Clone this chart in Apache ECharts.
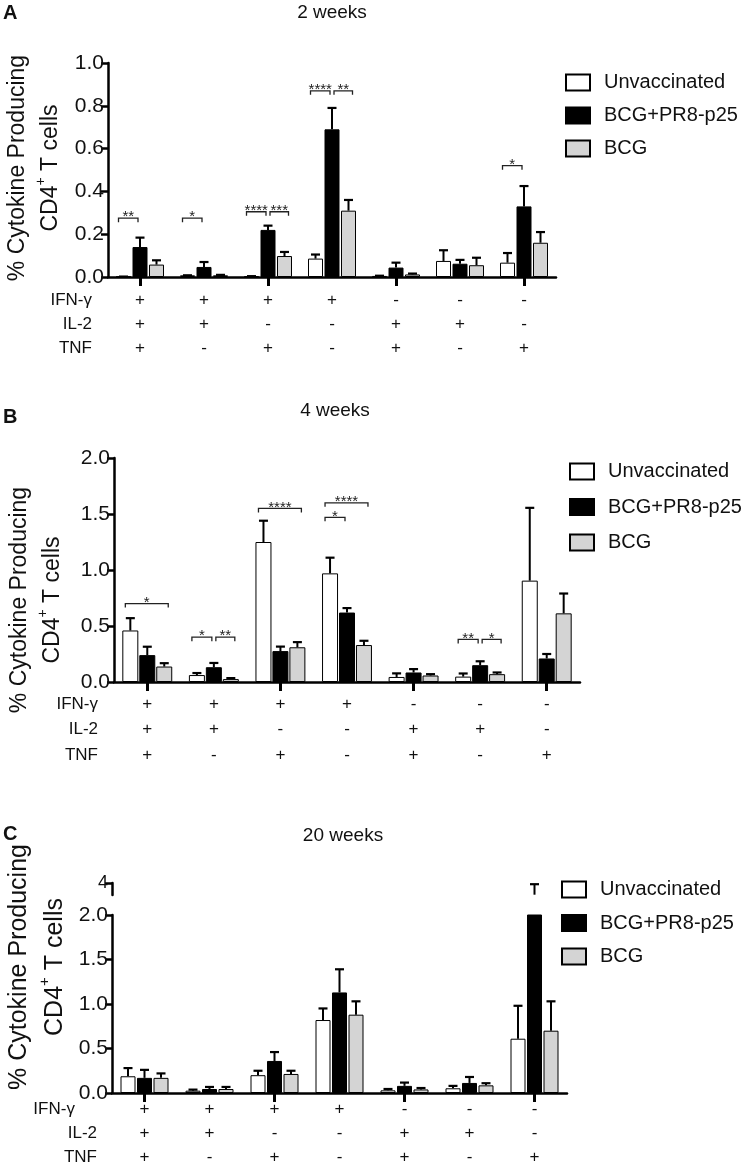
<!DOCTYPE html>
<html><head><meta charset="utf-8">
<script src="https://cdn.jsdelivr.net/npm/echarts@6/dist/echarts.min.js"></script>
<style>html,body{margin:0;padding:0;background:#fff}#c{width:754px;height:1174px}</style>
</head><body><div id="c"></div>
<script>
// ---------- data ----------
const categories = ['IFN+IL2+TNF+','IFN+IL2+TNF-','IFN+IL2-TNF+','IFN+IL2-TNF-','IFN-IL2+TNF+','IFN-IL2+TNF-','IFN-IL2-TNF+'];
const rowNames = ['IFN-γ','IL-2','TNF'];
const ifnRow = ['+','+','+','+','-','-','-'];
const il2Row = ['+','+','-','-','+','+','-'];
const tnfRow = ['+','-','+','-','+','-','+'];
const groupNames = ['Unvaccinated','BCG+PR8-p25','BCG'];
const yTitleLine1 = '% Cytokine Producing';
const yTitleLine2 = ['CD4', '+', ' T cells'];

// 2 weeks (mean, SEM)
const w2Unvacc    = [0.002, 0.008, 0.004, 0.086, 0.005, 0.075, 0.067];
const w2UnvaccSem = [0.000, 0.000, 0.000, 0.019, 0.001, 0.050, 0.045];
const w2P25       = [0.140, 0.047, 0.220, 0.690, 0.044, 0.062, 0.330];
const w2P25Sem    = [0.044, 0.023, 0.020, 0.100, 0.023, 0.018, 0.095];
const w2Bcg       = [0.058, 0.008, 0.098, 0.310, 0.012, 0.055, 0.160];
const w2BcgSem    = [0.020, 0.002, 0.019, 0.050, 0.004, 0.035, 0.050];
// [category, fromGroup, toGroup, bracket height, label]
const w2Sig = [[0,0,1,0.275,'**'],[1,0,1,0.275,'*'],[2,0,1,0.305,'****'],[2,1,2,0.305,'***'],[3,0,1,0.87,'****'],[3,1,2,0.87,'**'],[6,0,1,0.52,'*']];

// 4 weeks
const w4Unvacc    = [0.460, 0.062, 1.250, 0.970, 0.045, 0.048, 0.905];
const w4UnvaccSem = [0.110, 0.018, 0.190, 0.140, 0.032, 0.028, 0.650];
const w4P25       = [0.240, 0.132, 0.276, 0.620, 0.085, 0.150, 0.210];
const w4P25Sem    = [0.075, 0.038, 0.040, 0.040, 0.030, 0.035, 0.040];
const w4Bcg       = [0.138, 0.026, 0.310, 0.330, 0.058, 0.070, 0.613];
const w4BcgSem    = [0.030, 0.009, 0.046, 0.038, 0.012, 0.015, 0.177];
const w4Sig = [[0,0,2,0.70,'*'],[1,0,1,0.40,'*'],[1,1,2,0.40,'**'],[2,0,2,1.55,'****'],[3,0,1,1.47,'*'],[3,0,2,1.60,'****'],[5,0,1,0.38,'**'],[5,1,2,0.38,'*']];

// 20 weeks
const w20Unvacc    = [0.188, 0.026, 0.200, 0.820, 0.030, 0.053, 0.610];
const w20UnvaccSem = [0.092, 0.012, 0.050, 0.130, 0.015, 0.027, 0.370];
const w20P25       = [0.170, 0.045, 0.360, 1.130, 0.080, 0.113, 2.050];
const w20P25Sem    = [0.090, 0.023, 0.100, 0.260, 0.037, 0.067, 1.750];
const w20Bcg       = [0.170, 0.045, 0.214, 0.880, 0.040, 0.086, 0.700];
const w20BcgSem    = [0.050, 0.023, 0.036, 0.150, 0.016, 0.024, 0.330];
const w20Sig = [];
const w20BreakTicks = [2, 4];

// ---------- layout / style ----------
const FONT = '"Liberation Sans", Arial, Helvetica, sans-serif';
const INK = '#111';
const COLORS = ['#ffffff', '#000000', '#d4d4d4'];

const panels = [
  { letter:'A', title:'2 weeks', letterTop:3, titleX:332, titleTop:3,
    grid:{left:108, top:63, width:448, height:214}, max:1, interval:0.2,
    bw:15, gap:0.1, rows:[23,47,71], rowNameGap:16,
    yTitle:{x:34, y:168, size:23},
    vals:[w2Unvacc,w2P25,w2Bcg], sems:[w2UnvaccSem,w2P25Sem,w2BcgSem], sig:w2Sig,
    legend:{left:565, top:72, gap:12} },
  { letter:'B', title:'4 weeks', letterTop:407, titleX:335, titleTop:401,
    grid:{left:114, top:458, width:466, height:224}, max:2, interval:0.5,
    bw:16, gap:0.06, rows:[22,47,73], rowNameGap:16,
    yTitle:{x:36, y:600, size:23},
    vals:[w4Unvacc,w4P25,w4Bcg], sems:[w4UnvaccSem,w4P25Sem,w4BcgSem], sig:w4Sig,
    legend:{left:569, top:461, gap:14.5} },
  { letter:'C', title:'20 weeks', letterTop:824, titleX:343, titleTop:826,
    grid:{left:112, top:915, width:455, height:178}, max:2, interval:0.5,
    bw:15, gap:0.1, rows:[16,40,64], rowNameGap:15,
    yTitle:{x:37, y:967, size:25},
    vals:[w20Unvacc,w20P25,w20Bcg], sems:[w20UnvaccSem,w20P25Sem,w20BcgSem], sig:w20Sig,
    legend:{left:561, top:879, gap:12.5},
    brk:{top:883, height:12} }
];

const grids = [], xAxes = [], yAxes = [], series = [], legends = [], titles = [], graphics = [];
const rowsData = [ifnRow, il2Row, tnfRow];

function offsetOf(k, p){ return (k - 1) * p.bw * (1 + p.gap); }

function errRenderer(k, p){
  return function(params, api){
    const ci = api.value(0), m = api.value(1), s = api.value(2);
    const b = api.coord([ci, m]);
    const t = api.coord([ci, m + s]);
    const x = b[0] + offsetOf(k, p);
    return { type:'group', children:[
      { type:'line', shape:{x1:x, y1:b[1], x2:x, y2:t[1]}, style:{stroke:'#000', lineWidth:2} },
      { type:'line', shape:{x1:x-4.5, y1:t[1], x2:x+4.5, y2:t[1]}, style:{stroke:'#000', lineWidth:2.2} }
    ]};
  };
}

function sigRenderer(p){
  return function(params, api){
    const s = p.sig[params.dataIndex];
    const c = api.coord([s[0], s[3]]);
    const x1 = c[0] + offsetOf(s[1], p) + (s[1] === 0 ? -5 : 2);
    const x2 = c[0] + offsetOf(s[2], p) + (s[2] === 2 ? 4 : -2);
    const y = c[1];
    return { type:'group', children:[
      { type:'polyline', shape:{points:[[x1,y+4],[x1,y],[x2,y],[x2,y+4]]}, style:{stroke:'#222', lineWidth:1.3, fill:null} },
      { type:'text', style:{ x:(x1+x2)/2, y:y-1, text:s[4], align:'center', verticalAlign:'middle', font:'15px ' + FONT, fill:'#222' } }
    ]};
  };
}

panels.forEach(function(p){
  const gi = grids.length;
  grids.push(Object.assign({containLabel:false}, p.grid));
  const xi = xAxes.length;
  xAxes.push({ type:'category', gridIndex:gi, data:categories,
    axisLine:{show:true, lineStyle:{color:'#000', width:2.5}},
    axisTick:{show:true, alignWithLabel:true, length:9, lineStyle:{color:'#000', width:3}},
    axisLabel:{show:false}, splitLine:{show:false} });
  rowsData.forEach(function(row, r){
    xAxes.push({ type:'category', gridIndex:gi, data:categories, position:'bottom', offset:p.rows[r],
      axisLine:{show:false}, axisTick:{show:false}, splitLine:{show:false},
      axisLabel:{interval:0, margin:0, fontSize:17, fontFamily:FONT, color:INK, verticalAlign:'middle',
        formatter:function(v, i){ return row[i]; }},
      name:rowNames[r], nameLocation:'start', nameGap:p.rowNameGap,
      nameTextStyle:{fontSize:17, fontFamily:FONT, color:INK, align:'right', verticalAlign:'middle'} });
  });
  const yi = yAxes.length;
  yAxes.push({ type:'value', gridIndex:gi, min:0, max:p.max, interval:p.interval,
    axisLine:{show:true, lineStyle:{color:'#000', width:2.5}},
    axisTick:{show:true, length:7, lineStyle:{color:'#000', width:2.5}},
    splitLine:{show:false},
    axisLabel:{fontSize:21, fontFamily:FONT, color:INK, margin:4, formatter:function(v){ return v.toFixed(1); }} });

  for (let k = 0; k < 3; k++){
    series.push({ type:'bar', name:groupNames[k], xAxisIndex:xi, yAxisIndex:yi, data:p.vals[k],
      barWidth:p.bw, barGap:(p.gap*100)+'%', silent:true, animation:false,
      itemStyle:{color:COLORS[k], borderColor:'#000', borderWidth:1} });
  }
  for (let k = 0; k < 3; k++){
    series.push({ type:'custom', xAxisIndex:xi, yAxisIndex:yi, clip:true, z:5, silent:true, animation:false,
      data:p.vals[k].map(function(v,i){ return [i, v, p.sems[k][i]]; }), renderItem:errRenderer(k, p) });
  }
  if (p.sig.length){
    series.push({ type:'custom', xAxisIndex:xi, yAxisIndex:yi, clip:false, z:6, silent:true, animation:false,
      data:p.sig.map(function(s){ return [s[0], s[3]]; }), renderItem:sigRenderer(p) });
  }

  if (p.brk){
    const bg = grids.length;
    grids.push({left:p.grid.left, width:p.grid.width, top:p.brk.top, height:p.brk.height, containLabel:false});
    const bx = xAxes.length;
    xAxes.push({ type:'category', gridIndex:bg, data:categories, show:false });
    const by = yAxes.length;
    yAxes.push({ type:'value', gridIndex:bg, min:w20BreakTicks[0], max:w20BreakTicks[1], interval:w20BreakTicks[1]-w20BreakTicks[0],
      axisLine:{show:true, lineStyle:{color:'#000', width:2.5}},
      axisTick:{show:true, length:7, lineStyle:{color:'#000', width:2.5}}, splitLine:{show:false},
      axisLabel:{fontSize:18, fontFamily:FONT, color:INK, margin:4, showMinLabel:false, verticalAlign:'middle'} });
    for (let k = 0; k < 3; k++){
      series.push({ type:'bar', name:groupNames[k], xAxisIndex:bx, yAxisIndex:by, silent:true, animation:false,
        data:p.vals[k].map(function(v){ return v > p.max ? v : '-'; }),
        barWidth:p.bw, barGap:(p.gap*100)+'%', itemStyle:{color:COLORS[k], borderColor:'#000', borderWidth:1} });
    }
    for (let k = 0; k < 3; k++){
      const d = [];
      p.vals[k].forEach(function(v,i){ if (v > p.max) d.push([i, v, p.sems[k][i]]); });
      series.push({ type:'custom', xAxisIndex:bx, yAxisIndex:by, clip:false, z:5, silent:true, animation:false,
        data:d, renderItem:errRenderer(k, p) });
    }
  }

  legends.push({ data:groupNames, orient:'vertical', left:p.legend.left, top:p.legend.top, padding:0,
    itemWidth:24, itemHeight:16, itemGap:p.legend.gap, icon:'rect', selectedMode:false,
    textStyle:{fontSize:20, fontFamily:FONT, color:INK, lineHeight:21, padding:[0,0,0,9]} });

  titles.push({ text:p.letter, left:3, top:p.letterTop, padding:0,
    textStyle:{fontSize:20, fontWeight:'bold', fontFamily:FONT, color:INK} });
  titles.push({ text:p.title, left:p.titleX, top:p.titleTop, textAlign:'center', padding:0,
    textStyle:{fontSize:19, fontWeight:'normal', fontFamily:FONT, color:INK} });

  const fs = p.yTitle.size;
  graphics.push({ type:'text', x:p.yTitle.x, y:p.yTitle.y, rotation:Math.PI/2, silent:true,
    style:{ text:'{t|' + yTitleLine1 + '}\n{t|' + yTitleLine2[0] + '}{s|' + yTitleLine2[1] + '}{t|' + yTitleLine2[2] + '}',
      align:'center', verticalAlign:'middle',
      rich:{ t:{fontSize:fs, lineHeight:fs*1.45, fontFamily:FONT, fill:INK},
             s:{fontSize:Math.round(fs*0.6), lineHeight:fs*0.9, verticalAlign:'top', fontFamily:FONT, fill:INK} } } });
});

const chart = echarts.init(document.getElementById('c'), null, {renderer:'canvas'});
chart.setOption({
  animation:false,
  backgroundColor:'#ffffff',
  title:titles, legend:legends, grid:grids, xAxis:xAxes, yAxis:yAxes, series:series, graphic:graphics
});
</script></body></html>
